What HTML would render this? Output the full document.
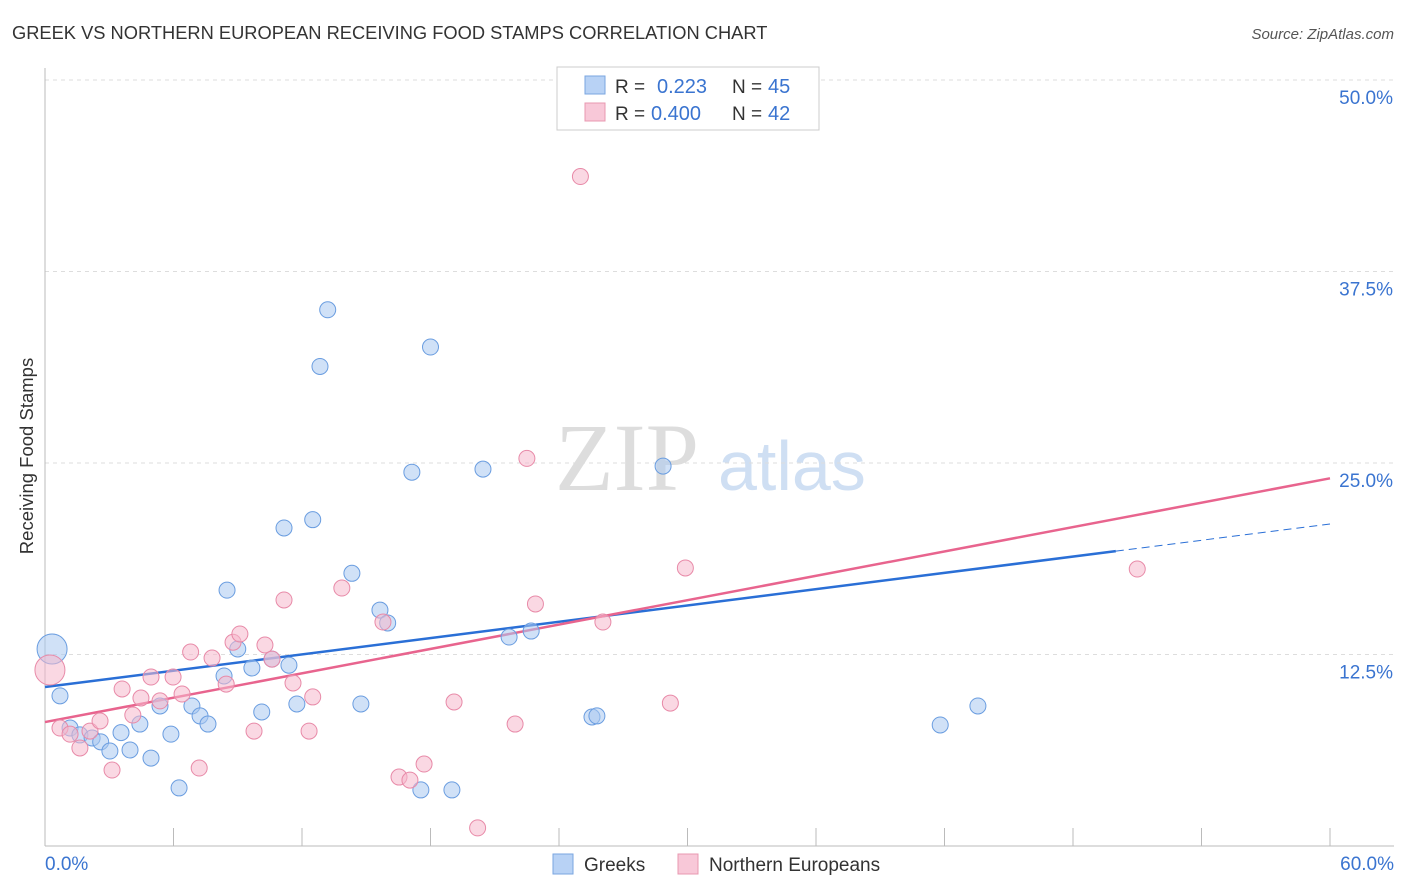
<!DOCTYPE html>
<html><head><meta charset="utf-8"><style>
body{margin:0;background:#fff;font-family:"Liberation Sans",sans-serif;}
svg{display:block}
</style></head><body>
<svg id="chart" width="1406" height="892">
<text x="12" y="39" font-size="18.3" fill="#333">GREEK VS NORTHERN EUROPEAN RECEIVING FOOD STAMPS CORRELATION CHART</text>
<text x="1394" y="39" font-size="15" fill="#555" font-style="italic" text-anchor="end">Source: ZipAtlas.com</text>
<text x="33" y="456" font-size="18.5" fill="#333" text-anchor="middle" transform="rotate(-90 33 456)">Receiving Food Stamps</text>
<text x="555" y="490" font-size="96" fill="#ddd" font-family="Liberation Serif,serif">ZIP</text>
<text x="718" y="490" font-size="70" fill="#cfdff3">atlas</text>
<g id="grid"></g><g id="axes"></g><g id="trends"></g><g id="pts"></g>
<g>
<rect x="557" y="67" width="262" height="63" fill="#fff" stroke="#ccc"/>
<rect x="585" y="76" width="20" height="18" fill="#b8d2f5" stroke="#7aa6e0"/>
<text x="615" y="93" font-size="19" fill="#333">R =</text>
<text x="657" y="93" font-size="20" fill="#3a74d0">0.223</text>
<text x="732" y="93" font-size="19" fill="#333">N =</text>
<text x="768" y="93" font-size="20" fill="#3a74d0">45</text>
<rect x="585" y="103" width="20" height="18" fill="#f8c8d8" stroke="#e898b0"/>
<text x="615" y="120" font-size="19" fill="#333">R =</text>
<text x="651" y="120" font-size="20" fill="#3a74d0">0.400</text>
<text x="732" y="120" font-size="19" fill="#333">N =</text>
<text x="768" y="120" font-size="20" fill="#3a74d0">42</text>
</g>
<g>
<rect x="553" y="854" width="20" height="20" fill="#b8d2f5" stroke="#7aa6e0"/>
<text x="584" y="871" font-size="19" fill="#333">Greeks</text>
<rect x="678" y="854" width="20" height="20" fill="#f8c8d8" stroke="#e898b0"/>
<text x="709" y="871" font-size="19" fill="#333">Northern Europeans</text>
</g>
</svg>
<script>
const yTicks=[12.5,25,37.5,50];
const yTickLabels=["12.5%","25.0%","37.5%","50.0%"];
const xTicks=[0,6,12,18,24,30,36,42,48,54,60];
const xTickLabels=["0.0%","60.0%"];
const greekX=[0.33,0.7,1.17,1.63,2.2,2.6,3.03,3.55,3.97,4.43,4.95,5.37,5.88,6.26,6.86,7.24,7.61,8.36,8.5,9.0,9.66,10.12,10.6,11.16,11.39,11.76,12.5,12.84,13.2,14.33,14.75,15.64,16.0,17.13,17.55,18.0,19.0,20.45,21.67,22.7,25.54,25.77,28.86,41.8,43.56];
const greekY=[12.86,9.8,7.7,7.25,7.05,6.8,6.2,7.4,6.27,7.96,5.74,9.14,7.3,3.79,9.14,8.49,7.96,11.1,16.7,12.86,11.62,8.75,12.2,20.76,11.8,9.27,21.3,31.3,35.0,17.8,9.27,15.4,14.56,24.4,3.66,32.57,3.66,24.6,13.64,14.03,8.42,8.49,24.8,7.9,9.14];
const northX=[0.23,0.7,1.17,1.63,2.1,2.57,3.13,3.6,4.1,4.48,4.95,5.37,5.98,6.4,6.8,7.2,7.8,8.46,8.78,9.1,9.76,10.27,10.6,11.16,11.58,12.33,12.5,13.86,15.78,16.53,17.04,17.7,19.1,20.2,21.95,22.5,22.9,25.0,26.05,29.2,29.9,51.0];
const northY=[11.49,7.7,7.3,6.4,7.5,8.16,4.96,10.25,8.55,9.66,11.03,9.47,11.03,9.92,12.66,5.09,12.27,10.57,13.3,13.84,7.5,13.12,12.2,16.06,10.64,7.5,9.73,16.84,14.62,4.5,4.3,5.35,9.4,1.18,7.96,25.3,15.8,43.7,14.62,9.33,18.15,18.08];
const greekTrend=[10.38,21.02];
const northTrend=[8.09,24.0];
const NS="http://www.w3.org/2000/svg";
const sx=v=>45+v*1285/60, sy=v=>846-v*191.5/12.5;
function mk(tag,attrs,parent){const e=document.createElementNS(NS,tag);for(const k in attrs)e.setAttribute(k,attrs[k]);document.getElementById(parent).appendChild(e);return e;}
yTicks.forEach((t,i)=>{
 const l=mk('line',{x1:45,x2:1394,y1:sy(t),y2:sy(t),stroke:'#ddd','stroke-dasharray':'4,4'},'grid');
 
 
 const tx=mk('text',{x:1393,y:sy(t)+24,'font-size':19,fill:'#3a74d0','text-anchor':'end'},'grid');tx.textContent=yTickLabels[i];
 
 
});
const ax=mk('line',{x1:45,x2:1394,y1:846,y2:846,stroke:'#bbb'},'axes');


const ay=mk('line',{x1:45,x2:45,y1:68,y2:846,stroke:'#bbb'},'axes');


xTicks.forEach(t=>{const l=mk('line',{x1:sx(t),x2:sx(t),y1:828,y2:846,stroke:'#bbb'},'axes');
 
 });
[[0,'start',45],[60,'end',1394]].forEach((d,i)=>{const tx=mk('text',{x:d[2],y:870,'font-size':19,fill:'#3a74d0','text-anchor':d[1]},'axes');tx.textContent=xTickLabels[i];
 
 });
function pts(X,Y,fill,stroke,name){X.forEach((x,i)=>{const big=i===0&&x<0.5;const c=mk('circle',{cx:sx(x),cy:sy(Y[i]),r:big?15:8,fill:fill,'fill-opacity':0.55,stroke:stroke,'stroke-width':1},'pts');
 
 });}
pts(greekX,greekY,'#a9c8f0','#6a9de0','greek-point');
pts(northX,northY,'#f5b8cc','#e88aa8','northern-point');
const gEnd=50, gMid=greekTrend[0]+(greekTrend[1]-greekTrend[0])*gEnd/60;
const gl=mk('line',{x1:sx(0),y1:sy(greekTrend[0]),x2:sx(gEnd),y2:sy(gMid),stroke:'#2a6fd6','stroke-width':2.5},'trends');


const gd=mk('line',{x1:sx(gEnd),y1:sy(gMid),x2:sx(60),y2:sy(greekTrend[1]),stroke:'#2a6fd6','stroke-width':1,'stroke-dasharray':'8,5'},'trends');


const nl=mk('line',{x1:sx(0),y1:sy(northTrend[0]),x2:sx(60),y2:sy(northTrend[1]),stroke:'#e8648e','stroke-width':2.5},'trends');


</script>
</body></html>
